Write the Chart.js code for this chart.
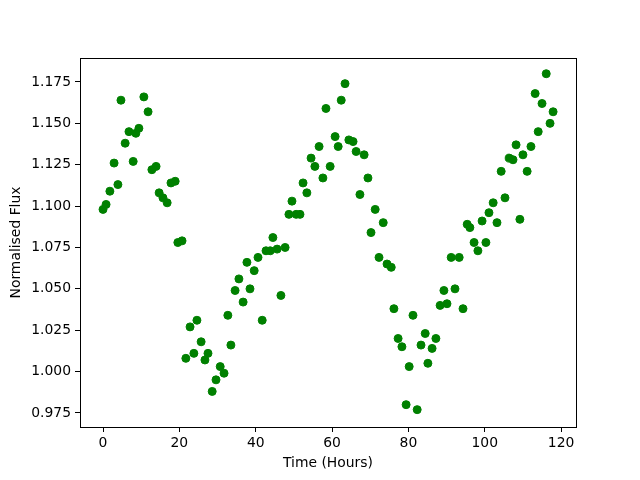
<!DOCTYPE html>
<html>
<head>
<meta charset="utf-8">
<script src="https://cdn.jsdelivr.net/npm/chart.js@4/dist/chart.umd.min.js"></script>
<style>
  html, body { margin: 0; padding: 0; background: #fff; }
</style>
</head>
<body>
<canvas id="fluxChart" width="640" height="480"></canvas>
<script>
// Time of each reading (hours)
const timeHours = [
  0, 0.8, 1.8, 2.9, 3.9, 4.7, 5.8, 6.8, 7.9, 8.6, 9.4, 10.7, 11.8, 12.8, 13.9,
  14.7, 15.7, 16.8, 17.8, 18.9, 19.6, 20.7, 21.7, 22.8, 23.8, 24.6, 25.7, 26.7,
  27.5, 28.6, 29.6, 30.7, 31.7, 32.7, 33.5, 34.6, 35.6, 36.7, 37.7, 38.5, 39.6,
  40.6, 41.7, 42.7, 43.8, 44.5, 45.6, 46.6, 47.7, 48.7, 49.5, 50.6, 51.6, 52.4,
  53.4, 54.5, 55.5, 56.6, 57.6, 58.4, 59.5, 60.8, 61.6, 62.4, 63.4, 64.4, 65.5,
  66.3, 67.3, 68.4, 69.4, 70.2, 71.3, 72.3, 73.4, 74.4, 75.5, 76.2, 77.3, 78.3,
  79.4, 80.2, 81.2, 82.3, 83.3, 84.4, 85.1, 86.2, 87.2, 88.3, 89.3, 90.1, 91.2,
  92.2, 93.3, 94.3, 95.4, 96.1, 97.2, 98.2, 99.3, 100.3, 101.1, 102.2, 103.2,
  104.3, 105.3, 106.4, 107.4, 108.2, 109.2, 110.0, 111.1, 112.1, 113.2, 114.0,
  115.0, 116.1, 117.1, 117.9
];

// Normalised flux at each reading
const fluxValues = [
  1.098, 1.101, 1.109, 1.126, 1.113, 1.164, 1.138, 1.145, 1.127, 1.144, 1.147,
  1.166, 1.157, 1.122, 1.124, 1.108, 1.105, 1.102, 1.114, 1.115, 1.078, 1.079,
  1.008, 1.027, 1.011, 1.031, 1.018, 1.007, 1.011, 0.988, 0.995, 1.003, 0.999,
  1.034, 1.016, 1.049, 1.056, 1.042, 1.066, 1.050, 1.061, 1.069, 1.031, 1.073,
  1.073, 1.081, 1.074, 1.046, 1.075, 1.095, 1.103, 1.095, 1.095, 1.114, 1.108,
  1.129, 1.124, 1.136, 1.117, 1.159, 1.124, 1.142, 1.136, 1.164, 1.174, 1.140,
  1.139, 1.133, 1.107, 1.131, 1.117, 1.084, 1.098, 1.069, 1.090, 1.065, 1.063,
  1.038, 1.020, 1.015, 0.980, 1.003, 1.034, 0.977, 1.016, 1.023, 1.005, 1.014,
  1.020, 1.040, 1.049, 1.041, 1.069, 1.050, 1.069, 1.038, 1.089, 1.087, 1.078,
  1.073, 1.091, 1.078, 1.096, 1.102, 1.090, 1.121, 1.105, 1.129, 1.128, 1.137,
  1.092, 1.131, 1.121, 1.136, 1.168, 1.145, 1.162, 1.180, 1.150, 1.157
];

// Tick labels
const xTicks = [0, 20, 40, 60, 80, 100, 120];
const yTicks = [0.975, 1.000, 1.025, 1.050, 1.075, 1.100, 1.125, 1.150, 1.175];

const points = timeHours.map((t, i) => ({ x: t, y: fluxValues[i] }));

const tickFont = { family: 'DejaVu Sans', size: 13.9 };

// draws the full box round the plot area, like matplotlib spines
const boxPlugin = {
  id: 'box',
  afterDraw(chart) {
    const a = chart.chartArea;
    const ctx = chart.ctx;
    ctx.save();
    ctx.strokeStyle = '#000';
    ctx.lineWidth = 1;
    ctx.strokeRect(Math.round(a.left) + 0.5, Math.round(a.top) + 0.5,
      Math.round(a.right - a.left), Math.round(a.bottom - a.top));
    ctx.restore();
  }
};

const fluxData = {
  datasets: [{
    label: 'Flux',
    data: points,
    backgroundColor: '#008000',
    borderColor: '#008000',
    borderWidth: 1,
    pointRadius: 4,
    pointHoverRadius: 4
  }]
};

const fluxConfig = {
  type: 'scatter',
  data: fluxData,
  options: {
    responsive: false,
    animation: false,
    layout: { padding: { top: 58, right: 64, left: 0, bottom: 0 } },
    plugins: {
      legend: { display: false },
      tooltip: { enabled: false }
    },
    scales: {
      x: {
        type: 'linear',
        min: -6.03,
        max: 123.9,
        afterBuildTicks: (scale) => { scale.ticks = xTicks.map(v => ({ value: v })); },
        afterFit: (scale) => { scale.height = 53; },
        grid: { drawOnChartArea: false, color: '#000', tickLength: 5 },
        border: { color: '#000' },
        ticks: { color: '#000', font: tickFont, padding: 3, maxRotation: 0 },
        title: {
          display: true,
          text: 'Time (Hours)',
          color: '#000',
          font: tickFont,
          padding: { top: 0, bottom: 8 }
        }
      },
      y: {
        type: 'linear',
        min: 0.9665,
        max: 1.1895,
        afterBuildTicks: (scale) => { scale.ticks = yTicks.map(v => ({ value: v })); },
        afterFit: (scale) => { scale.width = 80; },
        grid: { drawOnChartArea: false, color: '#000', tickLength: 5 },
        border: { color: '#000' },
        ticks: {
          color: '#000',
          font: tickFont,
          padding: 4,
          callback: (v) => Number(v).toFixed(3)
        },
        title: {
          display: true,
          text: 'Normalised Flux',
          color: '#000',
          font: tickFont,
          padding: { top: 8, bottom: 0 }
        }
      }
    }
  },
  plugins: [boxPlugin]
};

window.onload = function() {
  const ctx = document.getElementById('fluxChart').getContext('2d');
  new Chart(ctx, fluxConfig);
};
</script>
</body>
</html>
